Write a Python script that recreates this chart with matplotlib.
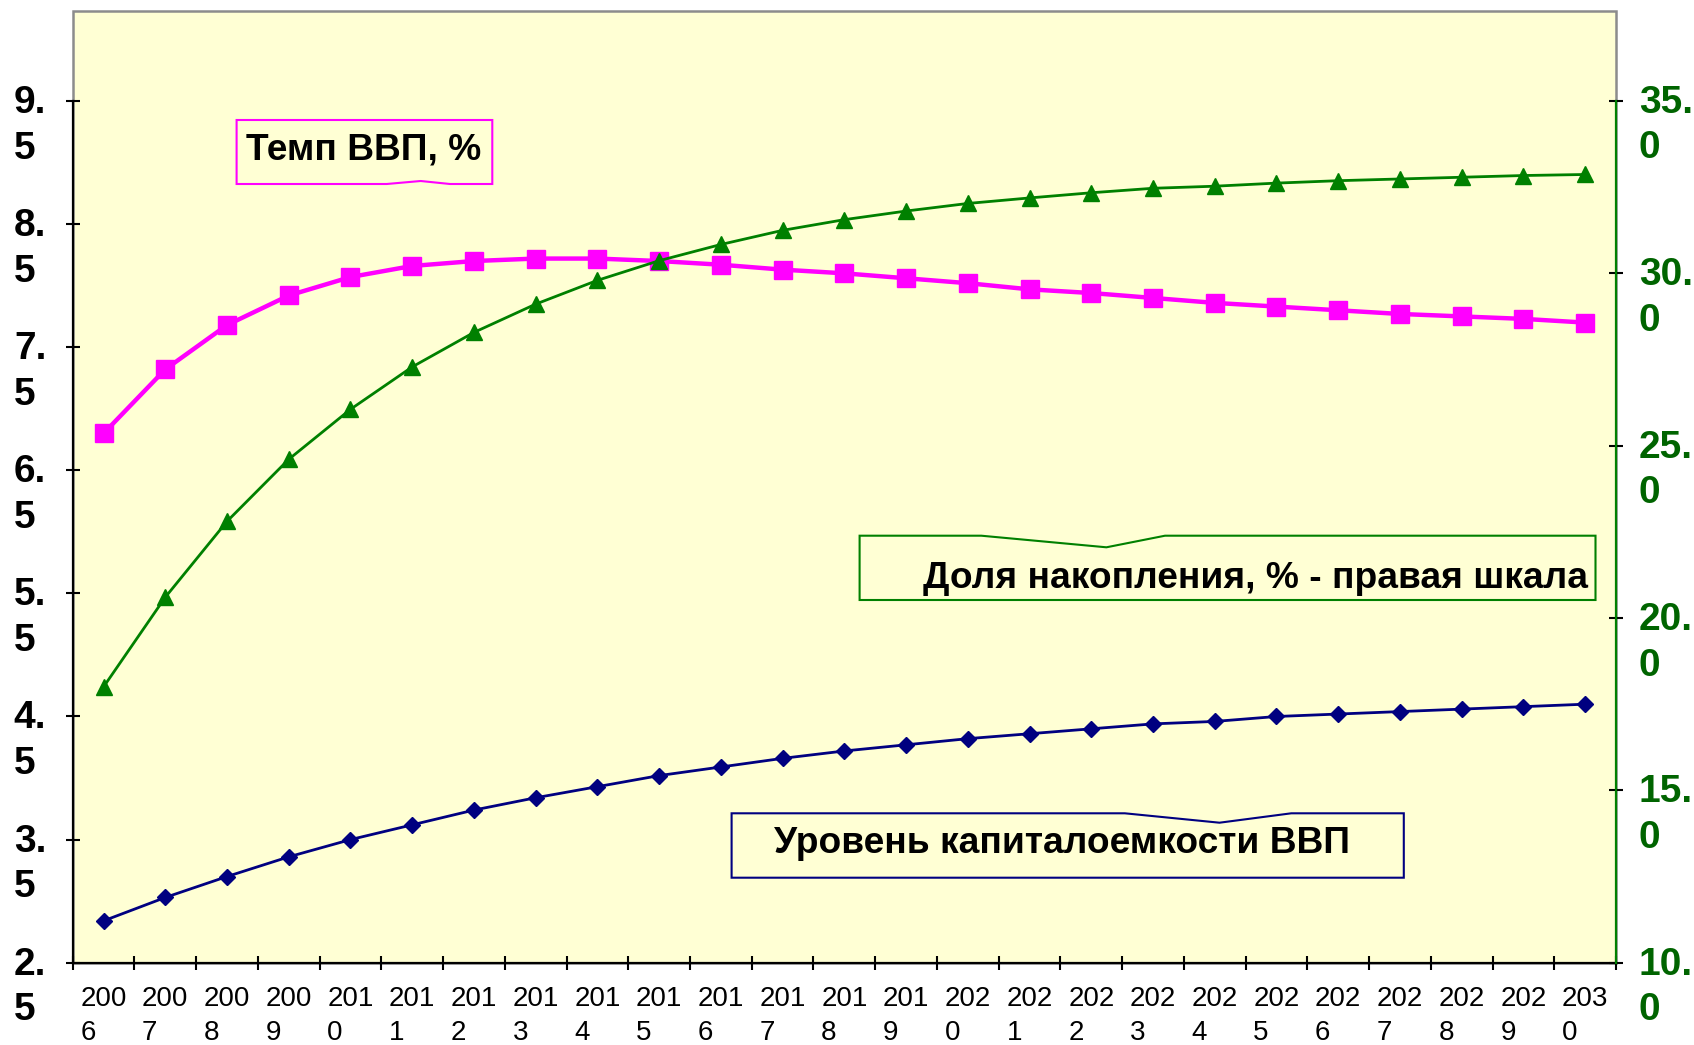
"""
Темп ВВП, доля накопления и уровень капиталоемкости, 2006-2030
"""
import numpy as np
import matplotlib
matplotlib.use('Agg')
import matplotlib.pyplot as plt
import matplotlib.transforms as mtransforms
from matplotlib.patches import Polygon, Rectangle

years = list(range(2006, 2031))

# left scale
gdp_growth = [6.80, 7.32, 7.68, 7.92, 8.07, 8.16, 8.20, 8.22, 8.22, 8.20,
              8.17, 8.13, 8.10, 8.06, 8.02, 7.97, 7.94, 7.90, 7.86, 7.83,
              7.80, 7.77, 7.75, 7.73, 7.70]
capital_intensity = [2.84, 3.03, 3.20, 3.36, 3.50, 3.62, 3.74, 3.84, 3.93, 4.02,
                     4.09, 4.16, 4.22, 4.27, 4.32, 4.36, 4.40, 4.44, 4.46, 4.50,
                     4.52, 4.54, 4.56, 4.58, 4.60]
# right scale
accumulation_share = [18.0, 20.6, 22.8, 24.6, 26.05, 27.28, 28.28, 29.10, 29.79, 30.36,
                      30.83, 31.24, 31.55, 31.80, 32.02, 32.18, 32.33, 32.46, 32.52, 32.61,
                      32.68, 32.73, 32.78, 32.83, 32.86]

left_ticks = [2.5, 3.5, 4.5, 5.5, 6.5, 7.5, 8.5, 9.5]
right_ticks = [10.0, 15.0, 20.0, 25.0, 30.0, 35.0]

label_gdp = 'Темп ВВП, %'
label_acc = 'Доля накопления, % - правая шкала'
label_cap = 'Уровень капиталоемкости ВВП'

plt.rcParams['font.family'] = ['Liberation Sans', 'DejaVu Sans']

W, H = 1694, 1045
fig = plt.figure(figsize=(W / 100, H / 100), dpi=100)
ax = fig.add_axes([72.7 / W, 1 - 962.7 / H, (1616 - 72.7) / W, (962.7 - 11) / H])
ax.set_facecolor('#FFFFD4')

x = np.arange(len(years))
ax.set_xlim(-0.5, len(years) - 0.5)
ax.set_ylim(2.5, 2.5 + 951.7 / 123.1)

ax.plot(x, capital_intensity, color='#000080', lw=2.0, marker='D', ms=8.5,
        zorder=3)
ax.plot(x, gdp_growth, color='#FF00FF', lw=3.2, marker='s', ms=13, zorder=3)

ax2 = ax.twinx()
ax2.set_ylim(10, 10 + 951.7 / 34.48)
ax2.plot(x, accumulation_share, color='#008000', lw=2.0, marker='^', ms=11.5,
         zorder=4)

# grey plot-area frame, axis lines only span the tick range
ax.add_patch(Rectangle((0, 0), 1, 1, transform=ax.transAxes, fill=False,
                       ec='#8c8c8c', lw=1.8, zorder=0.5, clip_on=False))
ax.spines['top'].set_visible(False)
ax.spines['right'].set_visible(False)
ax.spines['left'].set_bounds(2.5, 9.5)
for s in ('left', 'bottom'):
    ax.spines[s].set_color('black')
    ax.spines[s].set_linewidth(1.6)
for s in ('top', 'left', 'bottom'):
    ax2.spines[s].set_visible(False)
ax2.spines['right'].set_bounds(10, 35)
ax2.spines['right'].set_color('#008000')
ax2.spines['right'].set_linewidth(1.6)

def split_label(v):
    s = f'{v:.1f}'
    return s[:-1] + '\n' + s[-1]

down = mtransforms.ScaledTranslation(0, -0.16, fig.dpi_scale_trans)

ax.set_yticks(left_ticks)
ax.set_yticklabels([split_label(v) for v in left_ticks], fontsize=28,
                   fontweight='bold', ma='left', linespacing=1.35)
ax.tick_params(axis='y', direction='inout', length=10, width=1.5, pad=14)
for lab in ax.get_yticklabels():
    lab.set_transform(lab.get_transform() + down)

ax2.set_yticks(right_ticks)
ax2.set_yticklabels([split_label(v) for v in right_ticks], fontsize=28,
                    fontweight='bold', ma='left', color='#006400',
                    linespacing=1.35)
ax2.tick_params(axis='y', direction='inout', length=10, width=1.5, pad=11.5,
                color='black')
for lab in ax2.get_yticklabels():
    lab.set_transform(lab.get_transform() + down)

ax.set_xticks(x)
ax.set_xticklabels([str(y)[:3] + '\n' + str(y)[3:] for y in years],
                   fontsize=20, ma='left', linespacing=1.36)
ax.set_xticks(np.arange(-0.5, len(years)), minor=True)
ax.tick_params(axis='x', which='major', length=0, pad=17)
ax.tick_params(axis='x', which='minor', direction='inout', length=10, width=1.5)

# callout boxes (pixel coordinates of the picture)
def box(points, color):
    pts = [(px / W, 1 - py / H) for px, py in points]
    fig.add_artist(Polygon(pts, closed=True, fill=False, ec=color, lw=1.5,
                           transform=fig.transFigure))

box([(236.6, 120), (492.3, 120), (492.3, 184), (450, 184), (420.7, 181),
     (386.7, 184), (236.6, 184)], '#FF00FF')
box([(859.6, 535.7), (981.3, 535.7), (1106.4, 547.3), (1165, 535.7),
     (1595.5, 535.7), (1595.5, 600), (859.6, 600)], '#008000')
box([(731.6, 813.3), (1124.8, 813.3), (1219.5, 822.7), (1291.3, 813.3),
     (1403.8, 813.3), (1403.8, 877.7), (731.6, 877.7)], '#000080')

fig.text(245.7 / W, 1 - 159.3 / H, label_gdp, fontsize=26.7, fontweight='bold',
         va='baseline')
fig.text(922.7 / W, 1 - 588.3 / H, label_acc, fontsize=26.7, fontweight='bold',
         va='baseline')
fig.text(773.5 / W, 1 - 853.3 / H, label_cap, fontsize=26.7, fontweight='bold',
         va='baseline')

fig.savefig('out.png', dpi=100)
